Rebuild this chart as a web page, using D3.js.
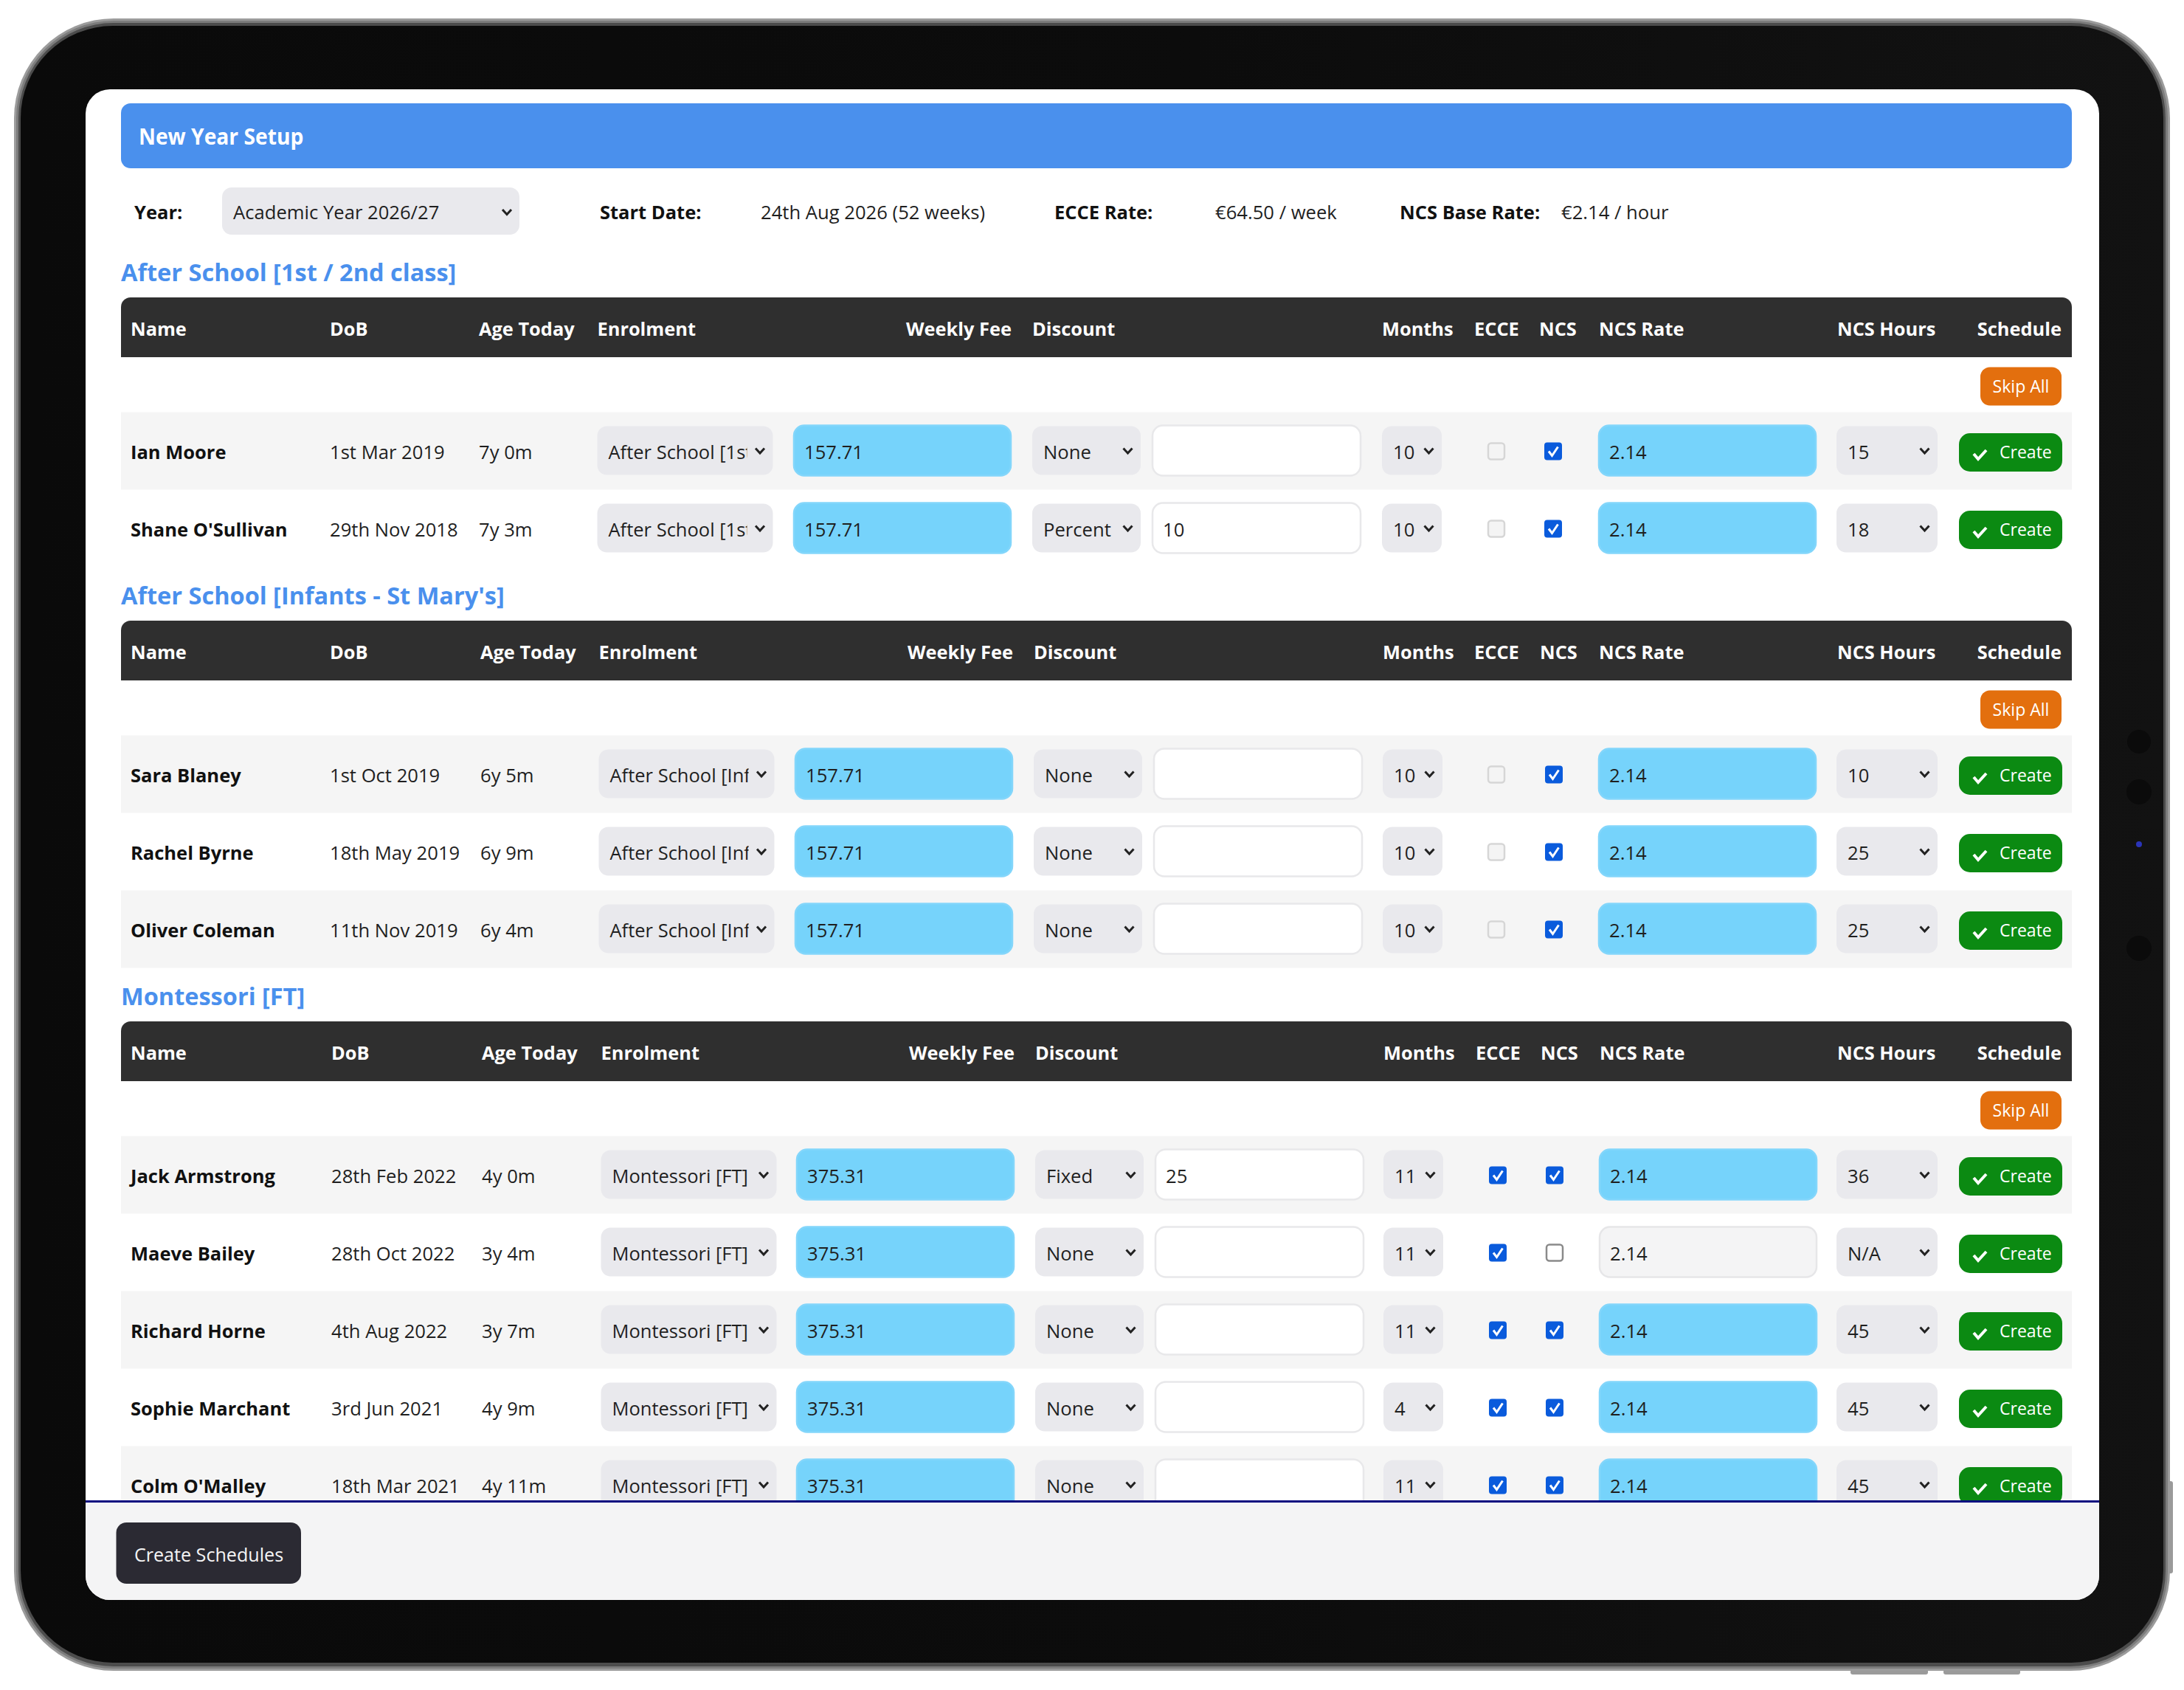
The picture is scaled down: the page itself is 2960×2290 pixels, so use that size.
<!DOCTYPE html>
<html><head><meta charset="utf-8">
<script src="https://cdn.jsdelivr.net/npm/d3@7"></script>
<style>
html,body{margin:0;padding:0;background:#fff}
svg{display:block}
text{font-family:"Open Sans","Noto Sans",sans-serif;white-space:pre}
.reg{font-size:25.5px;fill:#1f1f1f}
.bold{font-size:25.5px;font-weight:700;fill:#111}
.head{font-size:25.5px;font-weight:700;fill:#fff}
.title{font-size:33px;font-weight:700;fill:#4a90ed}
.banner{font-size:30px;font-weight:700;fill:#fff}
.btn{font-size:23.5px;fill:#fff}
.foot{font-size:25.5px;fill:#f4f4f5}
</style></head><body><div id="c"></div>
<script>
// ---------- data ----------
const pageTitle = "New Year Setup";
const yearLabel = "Year:";
const yearValue = "Academic Year 2026/27";
const infoLabels = ["Start Date:", "ECCE Rate:", "NCS Base Rate:"];
const infoValues = ["24th Aug 2026 (52 weeks)", "€64.50 / week", "€2.14 / hour"];
const headers = ["Name","DoB","Age Today","Enrolment","Weekly Fee","Discount","Months","ECCE","NCS","NCS Rate","NCS Hours","Schedule"];
const groupTitles = ["After School [1st / 2nd class]","After School [Infants - St Mary's]","Montessori [FT]"];
const groupSizes = [2,3,5];
const names = ["Ian Moore","Shane O'Sullivan","Sara Blaney","Rachel Byrne","Oliver Coleman","Jack Armstrong","Maeve Bailey","Richard Horne","Sophie Marchant","Colm O'Malley"];
const dobs = ["1st Mar 2019","29th Nov 2018","1st Oct 2019","18th May 2019","11th Nov 2019","28th Feb 2022","28th Oct 2022","4th Aug 2022","3rd Jun 2021","18th Mar 2021"];
const ages = ["7y 0m","7y 3m","6y 5m","6y 9m","6y 4m","4y 0m","3y 4m","3y 7m","4y 9m","4y 11m"];
const enrolments = groupTitles.flatMap((t,i)=>d3.range(groupSizes[i]).map(()=>t));
const weeklyFees = ["157.71","157.71","157.71","157.71","157.71","375.31","375.31","375.31","375.31","375.31"];
const discountTypes = ["None","Percent","None","None","None","Fixed","None","None","None","None"];
const discountValues = ["","10","","","","25","","","",""];
const monthCounts = ["10","10","10","10","10","11","11","11","4","11"];
const ecce = [false,false,false,false,false,true,true,true,true,true];
const ncs = [true,true,true,true,true,true,false,true,true,true];
const ncsRates = ["2.14","2.14","2.14","2.14","2.14","2.14","2.14","2.14","2.14","2.14"];
const ncsHours = ["15","18","10","25","25","36","N/A","45","45","45"];
const skipLabel = "Skip All", createLabel = "Create", footerLabel = "Create Schedules";

// ---------- layout ----------
const W=2960,H=2290;
const colKeys=["name","dob","age","enrol","fee","disc","discVal","months","ecce","ncs","rate","hours","sched"];
const colBase=[177,447,649,809.5,1076,1399,1562,1873,1998,2086,2167,2489,2794];
const colShift=[[0,0,0,0,0,0,0,0,0,0,0,0,0],[0,0,2,2,2,2,2,1,0,1,0,0,0],[0,2,4,5,4,4,4,2,2,2,1,0,0]];
const colX=g=>d3.scaleOrdinal(colKeys,colBase.map((v,i)=>v+colShift[g][i]));
const widths={enrol:238,fee:294,disc:147,discVal:282,months:81,rate:294,hours:137};
const squeeze={reg:1.005,bold:1,head:.995,title:.985,banner:.94,btn:.98,foot:.985};
const pitch=105, L=164, R=2808;

const svg=d3.select("#c").append("svg").attr("width",W).attr("height",H).attr("viewBox",[0,0,W,H]);
const defs=svg.append("defs");
const bez=defs.append("linearGradient").attr("id","bez");
bez.selectAll("stop").data([["0","#0a0a0a"],["0.55","#0c0c0c"],["1","#121212"]]).join("stop").attr("offset",d=>d[0]).attr("stop-color",d=>d[1]);
defs.append("clipPath").attr("id","screen").append("rect").attr("x",116).attr("y",121).attr("width",2729).attr("height",2047).attr("rx",33);
defs.append("clipPath").attr("id","scroll").append("rect").attr("x",116).attr("y",121).attr("width",2729).attr("height",1913);

function label(p,str,x,y,cls,anchor){
  const t=p.append("text").attr("class",cls).attr("x",x).attr("y",y).attr("text-anchor",anchor||"start").text(str);
  const len=t.node().getComputedTextLength();
  if(len>0 && squeeze[cls]!==1) t.attr("textLength",len*squeeze[cls]).attr("lengthAdjust","spacingAndGlyphs");
  return t;
}
const box=(p,x,y,w,h,r,fill,stroke)=>p.append("rect").attr("x",x).attr("y",y).attr("width",w).attr("height",h).attr("rx",r).attr("fill",fill).attr("stroke",stroke||"none").attr("stroke-width",stroke?2.5:0);
const chevron=(p,cx,cy)=>{const d=d3.path();d.moveTo(cx-6,cy-3);d.lineTo(cx,cy+3.5);d.lineTo(cx+6,cy-3);
  p.append("path").attr("d",d.toString()).attr("fill","none").attr("stroke","#222").attr("stroke-width",3);};
function select(p,x,cy,w,str,clipId){
  box(p,x,cy-33,w,66,13,"#e9e9ed");
  const t=label(p,str,x+15,cy+11,"reg");
  if(clipId){
    // the native control cuts long options: drop what cannot show, clip the last glyph
    const avail=w-35-15;
    let s=str;
    t.attr("textLength",null).attr("lengthAdjust",null);
    while(s.length>1 && t.node().getSubStringLength(0,s.length-1)>avail) s=s.slice(0,-1);
    t.text(s);
    defs.append("clipPath").attr("id",clipId).append("rect").attr("x",x).attr("y",cy-33).attr("width",w-35).attr("height",66);
    t.attr("clip-path",`url(#${clipId})`);
  }
  chevron(p,x+w-17.5,cy);
}
function input(p,x,cy,w,str,kind){
  const styles={blue:["#76d3fb","#83d6fb"],white:["#fff","#e8e8ea"],off:["#f4f4f5","#e6e6e8"]};
  box(p,x,cy-34,w,68,14,styles[kind][0],styles[kind][1]);
  if(str) label(p,str,x+14,cy+11,"reg");
}
function checkbox(p,cx,cy,on,enabled){
  if(on){
    box(p,cx-12,cy-12,24,24,4,"#0a5bdc");
    const d=d3.path();d.moveTo(cx-6,cy);d.lineTo(cx-1.5,cy+6);d.lineTo(cx+6.5,cy-6);
    p.append("path").attr("d",d.toString()).attr("fill","none").attr("stroke","#fff").attr("stroke-width",3);
  } else box(p,cx-11,cy-11,22,22,4,enabled?"#fff":"#f4f4f4",enabled?"#8a8a8a":"#d6d6d6");
}

// ---------- device ----------
const device=svg.append("g");
device.selectAll("rect.side").data([[2508,2262,105,7],[2634,2262,104,7],[2938,2007,7,125]]).join("rect").attr("class","side")
  .attr("x",d=>d[0]).attr("y",d=>d[1]).attr("width",d=>d[2]).attr("height",d=>d[3]).attr("rx",3).attr("fill","#9a9a9a");
const rimLayers=[[0,"#9c9c9c"],[3,"#7c7c7c"],[6,"#4c4c4c"]];
rimLayers.forEach(([d,c])=>box(device,19+d,25+d,2922-2*d,2239-2*d,135-d,c));
box(device,28,35,2904,2218,125,"url(#bez)");
device.selectAll("circle").data([[2899,1005,16,"#0b0b0b"],[2899,1073,17,"#0b0b0b"],[2899,1144,4,"#2a34b8"],[2899,1285,17,"#0b0b0b"]]).join("circle")
  .attr("cx",d=>d[0]).attr("cy",d=>d[1]).attr("r",d=>d[2]).attr("fill",d=>d[3]);

// ---------- screen ----------
const scr=svg.append("g").attr("clip-path","url(#screen)");
scr.append("rect").attr("x",116).attr("y",121).attr("width",2729).attr("height",2047).attr("fill","#fff");
const pageG=scr.append("g").attr("clip-path","url(#scroll)");

box(pageG,L,140,R-L,88,13,"#4a90ed");
label(pageG,pageTitle,188,196,"banner");
label(pageG,yearLabel,182,297,"bold");
box(pageG,301,254,403,64,13,"#e9e9ed");
label(pageG,yearValue,316,297,"reg");
chevron(pageG,687,287);
const infoLX=[813,1429,1897], infoVX=[1031,1647,2116];
infoLabels.forEach((s,i)=>{label(pageG,s,infoLX[i],297,"bold");label(pageG,infoValues[i],infoVX[i],297,"reg");});

// ---------- tables ----------
let yOff=0, start=0;
groupTitles.forEach((title,g)=>{
  const n=groupSizes[g], x=colX(g), G=pageG.append("g");
  const headTop=403+yOff, headBot=484+yOff, rowTop=559+yOff-.5;
  label(G,title,L,381+yOff,"title");
  const hp=d3.path(),r=13;
  hp.moveTo(L,headBot);hp.lineTo(L,headTop+r);hp.arcTo(L,headTop,L+r,headTop,r);hp.lineTo(R-r,headTop);hp.arcTo(R,headTop,R,headTop+r,r);hp.lineTo(R,headBot);hp.closePath();
  G.append("path").attr("d",hp.toString()).attr("fill","#2f2f2f");
  const hy=headTop+52;
  const headCols=["name","dob","age","enrol",null,"disc","months","ecce","ncs","rate","hours",null];
  headers.forEach((h,i)=>{
    if(h==="Weekly Fee") label(G,h,x("fee")+widths.fee+1,hy,"head","end");
    else if(h==="Schedule") label(G,h,x("sched"),hy,"head","end");
    else label(G,h,x(headCols[i])+(h==="NCS Hours"?1:0),hy,"head");
  });
  box(G,2684,497.5+yOff,110,52,13,"#e36f0e");
  label(G,skipLabel,2739,532+yOff,"btn","middle");

  const y=d3.scaleBand().domain(d3.range(n)).range([rowTop,rowTop+n*pitch]);
  d3.range(n).forEach(k=>{
    const i=start+k, Y=y(k), cy=Y+y.bandwidth()/2-.5;
    if(k%2===0) G.append("rect").attr("x",L).attr("y",Y).attr("width",R-L).attr("height",y.bandwidth()).attr("fill","#f5f5f5");
    label(G,names[i],x("name"),cy+11,"bold");
    label(G,dobs[i],x("dob"),cy+11,"reg");
    label(G,ages[i],x("age"),cy+11,"reg");
    select(G,x("enrol"),cy,widths.enrol,enrolments[i],"e"+i);
    input(G,x("fee"),cy,widths.fee,weeklyFees[i],"blue");
    select(G,x("disc"),cy,widths.disc,discountTypes[i]);
    input(G,x("discVal"),cy,widths.discVal,discountValues[i],"white");
    select(G,x("months"),cy,widths.months,monthCounts[i]);
    checkbox(G,x("ecce")+30,cy+1,ecce[i],g===2);
    checkbox(G,x("ncs")+19,cy+1,ncs[i],true);
    input(G,x("rate"),cy,widths.rate,ncsRates[i],ncs[i]?"blue":"off");
    select(G,x("hours"),cy,widths.hours,ncsHours[i]);
    box(G,2655,cy-23.5,140,52,15,"#0b8a12");
    const c=d3.path();c.moveTo(2675,cy+4.5);c.lineTo(2681,cy+11.5);c.lineTo(2692,cy-.5);
    G.append("path").attr("d",c.toString()).attr("fill","none").attr("stroke","#fff").attr("stroke-width",4);
    label(G,createLabel,2710,cy+10.5,"btn");
  });
  yOff+=438+pitch*(n-2);
  start+=n;
});

// ---------- footer ----------
scr.append("rect").attr("x",116).attr("y",2035).attr("width",2729).attr("height",133).attr("fill","#f4f4f5");
scr.append("rect").attr("x",116).attr("y",2033).attr("width",2729).attr("height",3).attr("fill","#0a0a80");
box(scr,157.5,2063,250.5,83,14,"#2b2a33");
label(scr,footerLabel,283,2116,"foot","middle");
</script></body></html>
